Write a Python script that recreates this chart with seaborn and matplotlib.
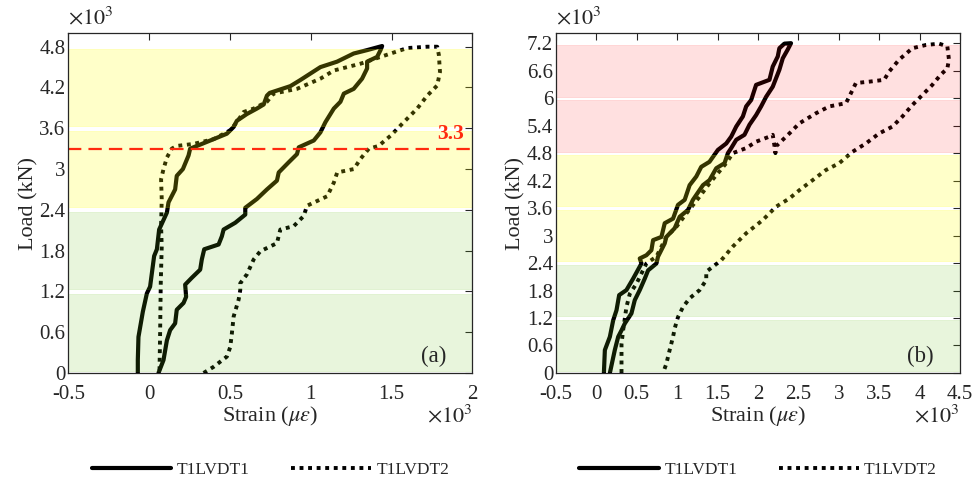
import numpy as np
import pandas as pd
import matplotlib
matplotlib.use("Agg")
import matplotlib.pyplot as plt
from matplotlib.ticker import FuncFormatter, MultipleLocator
import seaborn as sns

# ---- panel (a) data: strain (micro-strain) and load ----
a_lvdt1_strain = [-70, -70, -66, -39, -14, 6, 31, 48, 62, 110, 120, 161, 171, 209, 244, 254,
                  399, 481, 523, 543, 605, 667, 709, 729, 746, 874, 936, 1060, 1163, 1266, 1349, 1442,
                  1432, 1411, 1349, 1349, 1318, 1266, 1205, 1184, 1143, 1091, 1060, 1019, 926, 915,
                  864, 802, 791, 729, 667, 595, 595, 533, 461, 450, 430, 341, 326, 316, 264, 223,
                  229, 213, 171, 161, 130, 110, 89, 58]
a_lvdt1_load = [0, 190, 530, 900, 1170, 1270, 1720, 1820, 2110, 2360, 2510, 2700, 2900, 3000, 3200, 3300,
                3440, 3520, 3620, 3710, 3810, 3890, 3950, 4080, 4120, 4220, 4310, 4500, 4580, 4700, 4750, 4810,
                4750, 4650, 4580, 4480, 4330, 4180, 4110, 3990, 3890, 3690, 3540, 3420, 3320, 3220,
                3100, 2950, 2830, 2700, 2560, 2430, 2330, 2210, 2110, 2010, 1890, 1820, 1670, 1520, 1400, 1300,
                1120, 1030, 930, 730, 630, 480, 190, 0]

a_lvdt2_strain = [337, 399, 481, 502, 512, 523, 554, 564, 564, 605, 647, 688, 791, 812, 895, 957,
                  977, 1102, 1143, 1164, 1267, 1308, 1360, 1420, 1494, 1576, 1659, 1721, 1783, 1800, 1793, 1783,
                  1721, 1597, 1432, 1308, 1143, 1060, 915, 770, 729, 647, 585, 543, 502, 399,
                  275, 171, 140, 110, 89, 74, 78, 74, 78, 72, 68, 64]
a_lvdt2_load = [0, 90, 240, 380, 580, 830, 1080, 1220, 1320, 1450, 1670, 1790, 1910, 2110, 2160, 2310,
                2460, 2600, 2800, 2950, 3000, 3150, 3300, 3340, 3490, 3690, 3890, 4080, 4230, 4430, 4680, 4800,
                4800, 4780, 4650, 4550, 4450, 4330, 4180, 4110, 3990, 3890, 3840, 3690, 3570, 3440,
                3370, 3340, 3300, 3170, 3000, 2850, 2560, 2160, 1860, 1320, 580, 0]

# ---- panel (b) data ----
b_lvdt1_strain = [93, 105, 167, 208, 249, 282, 372, 455, 558, 537, 619, 681, 702, 805, 846, 949,
                  1010, 1093, 1154, 1237, 1298, 1400, 1504, 1607, 1669, 1731, 1813, 1854, 1916, 1977, 2142, 2183,
                  2245, 2265, 2327, 2409,
                  2368, 2307, 2265, 2183, 2101, 2039, 1977, 1895, 1833, 1731, 1669, 1628, 1586, 1484,
                  1400, 1319, 1195, 1134, 1031, 969, 866, 846, 763, 743, 640, 599, 537, 475, 434, 352,
                  311, 270, 228, 167]
b_lvdt1_load = [0, 500, 790, 1150, 1370, 1700, 1810, 2060, 2390, 2500, 2570, 2680, 2900, 2970, 3270, 3370,
                3670, 3780, 4100, 4290, 4500, 4610, 4870, 5010, 5160, 5380, 5600, 5820, 5960, 6290, 6400, 6690,
                6910, 7090, 7190, 7200,
                7060, 6870, 6620, 6250, 6030, 5820, 5630, 5420, 5200, 5090, 4910, 4800, 4580, 4470,
                4210, 4100, 3780, 3560, 3410, 3160, 2970, 2830, 2540, 2390, 2240, 2060, 1810, 1590, 1300, 1080,
                930, 790, 500, 0]

b_lvdt2_strain = [311, 311, 331, 372, 414, 496, 619, 743, 866, 990, 1113, 1278, 1400, 1607, 1689, 1854,
                  1977, 2142, 2183, 2205, 2216, 2224,
                  2389, 2512, 2718, 2883, 3088, 3109, 3171, 3212, 3377, 3562, 3623, 3747, 3911, 4076,
                  4241, 4344, 4364, 4344, 4261, 4158, 4035, 3911, 3788, 3665, 3500, 3335, 3171, 3006,
                  2840, 2677, 2512, 2389, 2224, 2060, 1854, 1689, 1545, 1442, 1360, 1360, 1278, 1154,
                  1072, 1010, 969, 949, 907, 866, 825]
b_lvdt2_load = [0, 640, 930, 1440, 1730, 1950, 2390, 2540, 2970, 3190, 3480, 3850, 4140, 4580, 4800, 4910,
                5050, 5160, 5200, 4950, 4800, 4950,
                5230, 5450, 5670, 5820, 5890, 5960, 6180, 6330, 6360, 6400, 6580, 6840, 7090, 7160,
                7190, 7130, 6840, 6650, 6510, 6290, 6070, 5850, 5600, 5380, 5230, 5010, 4830, 4580,
                4430, 4210, 3990, 3810, 3630, 3340, 3050, 2760, 2460, 2320, 2210, 2030, 1810, 1630,
                1440, 1220, 970, 790, 500, 200, 0]

series_names = ["T1LVDT1", "T1LVDT2"]
a_bands = [(0, 1200, "green"), (1200, 2400, "green"), (2400, 3600, "yellow"), (3600, 4800, "yellow")]
b_bands = [(0, 1200, "green"), (1200, 2400, "green"), (2400, 3600, "yellow"), (3600, 4800, "yellow"),
           (4800, 6000, "red"), (6000, 7200, "red")]
a_yticks = [0, 600, 1200, 1800, 2400, 3000, 3600, 4200, 4800]
b_yticks = [0, 600, 1200, 1800, 2400, 3000, 3600, 4200, 4800, 5400, 6000, 6600, 7200]
threshold = 3300

band_colors = {"green": ((0.40, 0.74, 0.09), 0.15),
               "yellow": ((1.0, 1.0, 0.0), 0.21),
               "red": ((1.0, 0.0, 0.0), 0.12)}

sns.set_style("white")
plt.rcParams["font.family"] = ["Liberation Serif", "DejaVu Serif"]
plt.rcParams["mathtext.fontset"] = "stix"
plt.rcParams["axes.unicode_minus"] = False
plt.rcParams["xtick.direction"] = "in"
plt.rcParams["ytick.direction"] = "in"

fig = plt.figure(figsize=(9.72, 4.8), dpi=100)
ax_a = fig.add_axes([0.0703, 0.223, 0.4156, 0.708])
ax_b = fig.add_axes([0.572, 0.223, 0.4156, 0.708])

thousands = FuncFormatter(lambda v, pos: "%g" % round(v / 1000, 3))


def draw_panel(ax, s1, l1, s2, l2, bands, yticks, xmax, ymax, tag):
    d1 = pd.DataFrame({"strain": s1, "load": l1})
    d2 = pd.DataFrame({"strain": s2, "load": l2})
    sns.lineplot(data=d1, x="strain", y="load", sort=False, estimator=None, ax=ax,
                 color="black", lw=3.0, label=series_names[0], zorder=2)
    sns.lineplot(data=d2, x="strain", y="load", sort=False, estimator=None, ax=ax,
                 color="black", lw=2.8, linestyle=(0, (1, 1.2)), label=series_names[1], zorder=2)
    for lo, hi, name in bands:
        c, al = band_colors[name]
        ax.axhspan(lo + 35, hi - 35, facecolor=c, alpha=al, edgecolor=c, lw=0.6, zorder=3)
    ax.set_xlim(-500, xmax)
    ax.set_ylim(0, ymax)
    ax.xaxis.set_major_locator(MultipleLocator(500))
    ax.set_yticks(yticks)
    ax.xaxis.set_major_formatter(thousands)
    ax.yaxis.set_major_formatter(thousands)
    ax.tick_params(labelsize=15, top=True, right=True, length=5, width=0.8, pad=2)
    ax.tick_params(axis="x", pad=8.5)
    ax.set_xlabel(r"Strain ($\mu\epsilon$)", fontsize=16, labelpad=0)
    ax.set_ylabel("Load (kN)", fontsize=16, labelpad=1)
    for sp in ax.spines.values():
        sp.set_linewidth(0.9)
        sp.set_color("#262626")
        sp.set_zorder(5)
    ax.text(0.0, 1.01, r"$\times10^3$", transform=ax.transAxes, fontsize=16, ha="left", va="bottom")
    ax.text(1.0, -0.095, r"$\times10^3$", transform=ax.transAxes, fontsize=16, ha="right", va="top")
    ax.text(0.935, 0.018, tag, transform=ax.transAxes, fontsize=16.5, ha="right", va="bottom", zorder=6)
    ax.legend(loc="upper center", bbox_to_anchor=(0.5, -0.215), ncol=2, frameon=False,
              fontsize=12.5, handlelength=4.6, columnspacing=2.4, handletextpad=0.3)


draw_panel(ax_a, a_lvdt1_strain, a_lvdt1_load, a_lvdt2_strain, a_lvdt2_load,
           a_bands, a_yticks, 2000, 5000, "(a)")
ax_a.axhline(threshold, color="#ff2a0f", lw=1.6, ls=(0, (6, 3.2)), zorder=4)
ax_a.text(1950, threshold + 220, "3.3", color="#ff2a0f", fontsize=15.5, fontweight="bold",
          ha="right", va="center", zorder=6)

draw_panel(ax_b, b_lvdt1_strain, b_lvdt1_load, b_lvdt2_strain, b_lvdt2_load,
           b_bands, b_yticks, 4500, 7420, "(b)")

fig.savefig("out.png", dpi=100)
